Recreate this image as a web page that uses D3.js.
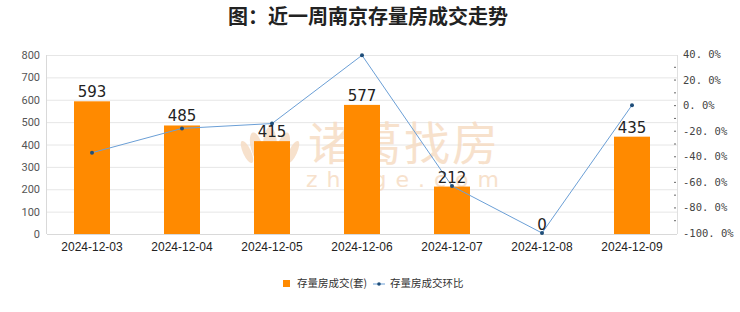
<!DOCTYPE html>
<html><head><meta charset="utf-8">
<script src="https://cdn.jsdelivr.net/npm/d3@7/dist/d3.min.js"></script>
<style>
body{margin:0;background:#fff;}
svg{display:block;font-family:"Noto Sans CJK SC","Noto Sans",sans-serif;}
</style></head>
<body><svg id="c" width="740" height="312"></svg>
<script>
const categories = ["2024-12-03","2024-12-04","2024-12-05","2024-12-06","2024-12-07","2024-12-08","2024-12-09"];
const volumes = [593,485,415,577,212,0,435];
const changes = [-37.2,-18.2,-14.4,39.0,-63.3,-100.0,0.0];
const leftTicks = [0,100,200,300,400,500,600,700,800];
const rightTicks = [40,20,0,-20,-40,-60,-80,-100];
const title = "图：近一周南京存量房成交走势";
const legendLabels = ["存量房成交(套)","存量房成交环比"];

const svg = d3.select("#c");
const m = {l:47, r:677, t:55, b:234};

const x = d3.scaleBand().domain(categories).range([m.l,m.r]).paddingInner(0.6).paddingOuter(0.3);
const xc = d3.scalePoint().domain(categories).range([m.l,m.r]).padding(0.5);
const yL = d3.scaleLinear().domain([0,800]).range([m.b,m.t]);
const yR = d3.scaleLinear().domain([-100,40]).range([m.b-1,m.t-1]);

// title
svg.append("text").attr("x",368).attr("y",24).attr("text-anchor","middle")
  .attr("font-size",20).attr("font-weight","bold").attr("fill","#222").text(title);

// grid
svg.append("g").selectAll("line").data(leftTicks.slice(1)).join("line")
  .attr("x1",m.l).attr("x2",m.r).attr("y1",d=>yL(d)+0.5).attr("y2",d=>yL(d)+0.5)
  .attr("stroke","#e6e6e6");
svg.append("line").attr("x1",m.r+0.5).attr("x2",m.r+0.5).attr("y1",m.t).attr("y2",m.b).attr("stroke","#e0e0e0");

// watermark
const wm = svg.append("g").attr("opacity",0.85);
const logo = wm.append("g").attr("transform","translate(270,146)").attr("fill","#f6dcc4");
logo.append("ellipse").attr("cx",0).attr("cy",0).attr("rx",7).attr("ry",19);
logo.append("ellipse").attr("cx",-13).attr("cy",2).attr("rx",6).attr("ry",16).attr("transform","rotate(-15,-13,2)");
logo.append("ellipse").attr("cx",13).attr("cy",2).attr("rx",6).attr("ry",16).attr("transform","rotate(15,13,2)");
logo.append("ellipse").attr("cx",-23).attr("cy",6).attr("rx",4).attr("ry",12).attr("transform","rotate(-25,-23,6)");
logo.append("ellipse").attr("cx",23).attr("cy",6).attr("rx",4).attr("ry",12).attr("transform","rotate(25,23,6)");
wm.append("text").attr("x",404).attr("y",160).attr("text-anchor","middle").attr("font-size",46)
  .attr("fill","#f6dcc4").attr("letter-spacing",2).text("诸葛找房");
wm.append("text").attr("x",407).attr("y",187).attr("text-anchor","middle").attr("font-size",22)
  .attr("fill","#f6dcc4").attr("letter-spacing",9).attr("font-family","DejaVu Sans").text("zhuge.com");

// bars
svg.append("g").selectAll("rect").data(volumes).join("rect")
  .attr("x",(d,i)=>x(categories[i])).attr("width",x.bandwidth())
  .attr("y",d=>yL(d)).attr("height",d=>yL(0)-yL(d)).attr("fill","#ff8a00");

// axis lines
svg.append("line").attr("x1",m.l-0.5).attr("x2",m.l-0.5).attr("y1",m.t).attr("y2",m.b).attr("stroke","#d9d9d9");
svg.append("line").attr("x1",m.l).attr("x2",m.r).attr("y1",m.b+0.5).attr("y2",m.b+0.5).attr("stroke","#d9d9d9");

// left ticks
svg.append("g").selectAll("text").data(leftTicks).join("text")
  .attr("x",40).attr("y",d=>yL(d)+4).attr("text-anchor","end").attr("font-size",11)
  .attr("fill","#555").attr("font-family","Roboto, sans-serif").text(d=>d);

// right ticks
const fmt = d=>d.toFixed(1).replace(".",". ")+"%";
svg.append("g").selectAll("text").data(rightTicks).join("text")
  .attr("x",683).attr("y",d=>yR(d)+4).attr("text-anchor","start").attr("font-size",10.5)
  .attr("fill","#444").attr("font-family","DejaVu Sans Mono, monospace").text(fmt);
const minor = d3.range(-90,40,10);
svg.append("g").selectAll("line").data(minor).join("line")
  .attr("x1",m.r-3).attr("x2",m.r-1).attr("y1",d=>yR(d)+0.5).attr("y2",d=>yR(d)+0.5)
  .attr("stroke","#666");

// x labels
svg.append("g").selectAll("text").data(categories).join("text")
  .attr("x",d=>xc(d)).attr("y",251).attr("text-anchor","middle").attr("font-size",12)
  .attr("fill","#222").attr("font-family","Liberation Sans, Arial, sans-serif").text(d=>d);

// line
const line = d3.line().x((d,i)=>xc(categories[i])).y(d=>yR(d));
svg.append("path").datum(changes).attr("d",line).attr("fill","none")
  .attr("stroke","#6b9fd6").attr("stroke-width",1);
svg.append("g").selectAll("circle").data(changes).join("circle")
  .attr("cx",(d,i)=>xc(categories[i])).attr("cy",d=>yR(d)).attr("r",2).attr("fill","#1f4e79");

// bar labels
svg.append("g").selectAll("text").data(volumes).join("text")
  .attr("x",(d,i)=>xc(categories[i])).attr("y",d=>yL(d)-4).attr("text-anchor","middle")
  .attr("font-size",15).attr("fill","#222").attr("font-family","DejaVu Sans, sans-serif").text(d=>d);

// legend
const lg = svg.append("g").attr("font-size",10.5).attr("fill","#333");
lg.append("rect").attr("x",283).attr("y",280).attr("width",7).attr("height",7).attr("fill","#ff8a00");
lg.append("text").attr("x",297).attr("y",287).attr("fill","#333").text(legendLabels[0]);
lg.append("line").attr("x1",373).attr("x2",385).attr("y1",284).attr("y2",284).attr("stroke","#6b9fd6");
lg.append("circle").attr("cx",379).attr("cy",284).attr("r",1.8).attr("fill","#1f4e79");
lg.append("text").attr("x",390).attr("y",287).attr("fill","#333").text(legendLabels[1]);
</script></body></html>
